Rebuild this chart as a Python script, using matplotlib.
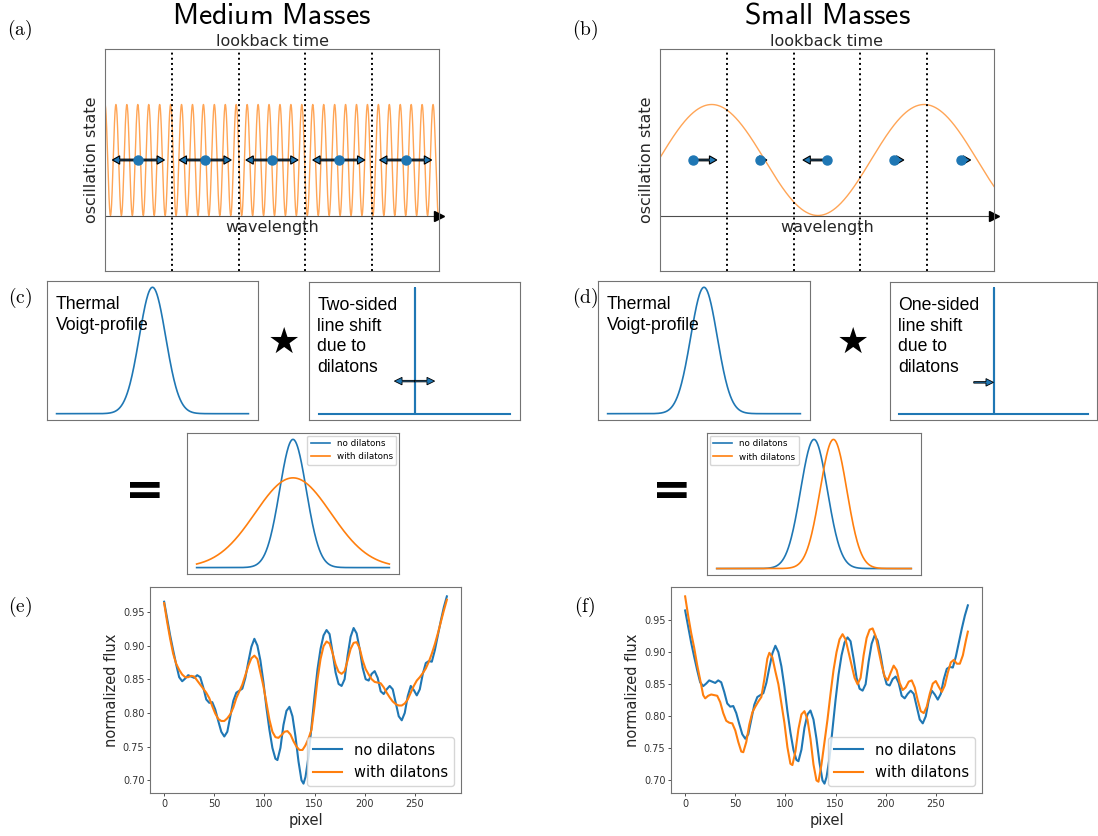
import numpy as np
import matplotlib.pyplot as plt

plt.rcParams['mathtext.fontset'] = 'cm'

W, H = 1098, 836

# ---- data ----
# oscillation panels (a), (b)
seg_bounds = [1, 2, 3, 4]
seg_centres = [0.5, 1.5, 2.5, 3.5, 4.5]
period_medium = 0.1637
period_small = 3.18
peak_small = 0.774
shift_medium = [0.39, 0.39, 0.39, 0.39, 0.39]
shift_small = [0.35, 0.10, -0.36, 0.15, 0.15]

# line profiles (c), (d)
sigma_thermal = 0.138
amp_two_sided = 0.7
sigma_two_sided = 0.394
shift_one_sided = 0.2
delta_x = [-1, 0, 0, 0, 1]
delta_y = [0, 0, 1, 0, 0]

# spectra (e), (f)
pix_nodil = [0, 3, 6, 9, 12, 15, 18, 21, 24, 27, 30, 33, 36, 39, 42, 45, 48, 51, 54, 57,
             60, 63, 66, 69, 72, 75, 78, 81, 84, 87, 90, 93, 96, 99, 102, 105, 108, 111, 113, 116,
             119, 122, 125, 128, 131, 134, 137, 139, 141, 144, 147, 150, 153, 156, 159, 162, 165, 168, 171, 174,
             177, 180, 183, 186, 189, 192, 195, 198, 201, 204, 207, 210, 213, 216, 219, 222, 225, 228, 231, 234,
             237, 240, 243, 246, 249, 252, 255, 258, 261, 264, 267, 270, 273, 276, 279, 282]
flux_nodil = [0.965, 0.940, 0.915, 0.893, 0.872, 0.853, 0.847, 0.851, 0.856, 0.854,
              0.852, 0.856, 0.853, 0.838, 0.820, 0.815, 0.816, 0.805, 0.788, 0.772,
              0.765, 0.772, 0.795, 0.818, 0.830, 0.833, 0.836, 0.852, 0.876, 0.898,
              0.910, 0.900, 0.878, 0.846, 0.808, 0.775, 0.748, 0.732, 0.730, 0.748,
              0.782, 0.803, 0.809, 0.795, 0.765, 0.728, 0.700, 0.695, 0.705, 0.735,
              0.780, 0.825, 0.865, 0.895, 0.915, 0.923, 0.917, 0.890, 0.860, 0.843,
              0.840, 0.850, 0.885, 0.913, 0.926, 0.918, 0.895, 0.867, 0.850, 0.848,
              0.858, 0.862, 0.852, 0.832, 0.828, 0.835, 0.840, 0.835, 0.815, 0.795,
              0.789, 0.800, 0.825, 0.840, 0.834, 0.826, 0.835, 0.858, 0.874, 0.877,
              0.876, 0.893, 0.915, 0.937, 0.957, 0.973]

pix_two = list(range(0, 283, 3))
flux_two = [0.963, 0.935, 0.910, 0.888, 0.873, 0.864, 0.857, 0.853, 0.853, 0.855,
            0.854, 0.848, 0.842, 0.836, 0.830, 0.822, 0.810, 0.799, 0.791, 0.788,
            0.788, 0.792, 0.798, 0.808, 0.822, 0.832, 0.842, 0.856, 0.870, 0.881,
            0.885, 0.880, 0.860, 0.840, 0.815, 0.790, 0.772, 0.764, 0.763, 0.767,
            0.772, 0.773, 0.768, 0.758, 0.750, 0.745, 0.745, 0.752, 0.762, 0.775,
            0.810, 0.850, 0.880, 0.899, 0.906, 0.903, 0.889, 0.872, 0.861, 0.858,
            0.862, 0.878, 0.895, 0.904, 0.905, 0.896, 0.878, 0.865, 0.857, 0.850,
            0.846, 0.845, 0.844, 0.838, 0.830, 0.823, 0.817, 0.813, 0.811, 0.811,
            0.814, 0.820, 0.830, 0.840, 0.848, 0.853, 0.859, 0.866, 0.876, 0.888,
            0.902, 0.918, 0.935, 0.952, 0.968]

pix_one = [0, 3, 6, 9, 12, 15, 18, 20, 23, 26, 29, 32, 35, 38, 41, 44, 47, 50, 53, 56,
           58, 61, 64, 67, 70, 73, 76, 79, 82, 84, 87, 90, 93, 96, 99, 102, 105, 107, 110, 113,
           116, 119, 122, 125, 128, 131, 133, 136, 139, 142, 145, 148, 151, 154, 157, 160, 163, 166, 169, 172,
           175, 178, 181, 184, 187, 190, 193, 196, 199, 202, 205, 208, 211, 214, 217, 220, 223, 226, 229, 232,
           235, 238, 241, 244, 247, 250, 253, 256, 259, 262, 265, 268, 271, 274, 277, 280, 282]
flux_one = [0.987, 0.957, 0.930, 0.907, 0.880, 0.857, 0.833, 0.828, 0.832, 0.834,
            0.833, 0.832, 0.822, 0.805, 0.793, 0.790, 0.789, 0.778, 0.760, 0.745,
            0.744, 0.760, 0.787, 0.806, 0.815, 0.823, 0.830, 0.858, 0.890, 0.899,
            0.892, 0.870, 0.850, 0.820, 0.790, 0.752, 0.726, 0.724, 0.745, 0.780,
            0.803, 0.808, 0.795, 0.765, 0.725, 0.700, 0.698, 0.725, 0.760, 0.795,
            0.835, 0.872, 0.900, 0.920, 0.928, 0.920, 0.900, 0.880, 0.860, 0.850,
            0.860, 0.895, 0.922, 0.935, 0.937, 0.925, 0.902, 0.880, 0.862, 0.856,
            0.868, 0.879, 0.872, 0.852, 0.841, 0.845, 0.854, 0.856, 0.845, 0.825,
            0.808, 0.805, 0.815, 0.835, 0.851, 0.855, 0.846, 0.838, 0.848, 0.868,
            0.884, 0.888, 0.882, 0.882, 0.895, 0.918, 0.932]

fig = plt.figure(figsize=(W / 100, H / 100), dpi=100)


def box(x0, y0, x1, y1):
    # axes placed by pixel corners of the reference
    ax = fig.add_axes([x0 / W, 1 - y1 / H, (x1 - x0) / W, (y1 - y0) / H])
    for s in ax.spines.values():
        s.set_color('0.45')
        s.set_linewidth(0.8)
    return ax


def blank(ax):
    ax.set_xticks([])
    ax.set_yticks([])


def osc_panel(ax, xs, ys, shifts, two_sided):
    ax.plot(xs, ys, color='C1', alpha=0.7, lw=1)
    for xb in seg_bounds:
        ax.axvline(xb, color='k', ls=':', lw=1.4)
    ax.axhline(0, color='0.3', lw=0.8)
    ax.plot(1, 0, '>k', ms=7, transform=ax.get_yaxis_transform(), clip_on=False)
    for xc, s in zip(seg_centres, shifts):
        dirs = [s, -s] if two_sided else [s]
        for d in dirs:
            ax.arrow(xc, 1, d, 0, width=0.03, head_width=0.15, head_length=0.11,
                     length_includes_head=True, fc='C0', ec='k', lw=0.8, zorder=3)
    ax.plot(seg_centres, [1] * len(seg_centres), 'o', color='C0', ms=6.5, zorder=4)
    ax.set_xlim(0, 5)
    ax.set_ylim(-1, 3)
    blank(ax)
    ax.set_title('lookback time', fontsize=11.5, pad=2, color='0.15')
    ax.set_ylabel('oscillation state', fontsize=11.5, color='0.15')
    ax.text(2.5, -0.08, 'wavelength', ha='center', va='top', fontsize=11.5, color='0.15')


xx = np.linspace(0, 5, 3000)
ax_a = box(105, 49, 439, 271)
osc_panel(ax_a, xx, 1 + np.cos(2 * np.pi * xx / period_medium), shift_medium, True)
ax_b = box(660, 49, 994, 271)
osc_panel(ax_b, xx, 1 + np.cos(2 * np.pi * (xx - peak_small) / period_small), shift_small, False)

# line profile boxes
gx = np.linspace(-1, 1, 400)
thermal = np.exp(-gx ** 2 / (2 * sigma_thermal ** 2))
txt_kw = dict(fontsize=12.7, family='Liberation Sans', va='top', ha='left', linespacing=1.27)

ax_c1 = box(47, 281, 258, 420)
ax_c1.plot(gx, thermal, color='C0', lw=1.2)
ax_c1.text(0.04, 0.89, 'Thermal\nVoigt-profile', transform=ax_c1.transAxes, **txt_kw)
blank(ax_c1)

ax_c2 = box(309, 282, 520, 420)
ax_c2.plot(delta_x, delta_y, color='C0', lw=1.5)
for d in [0.21, -0.21]:
    ax_c2.arrow(0, 0.26, d, 0, width=0.012, head_width=0.06, head_length=0.08,
                length_includes_head=True, fc='C0', ec='k', lw=0.6, zorder=3)
ax_c2.text(0.04, 0.89, 'Two-sided\nline shift\ndue to\ndilatons', transform=ax_c2.transAxes, **txt_kw)
blank(ax_c2)

ax_d1 = box(598, 281, 810, 420)
ax_d1.plot(gx, thermal, color='C0', lw=1.2)
ax_d1.text(0.04, 0.89, 'Thermal\nVoigt-profile', transform=ax_d1.transAxes, **txt_kw)
blank(ax_d1)

ax_d2 = box(890, 282, 1097, 420)
ax_d2.plot(delta_x, delta_y, color='C0', lw=1.5)
ax_d2.arrow(-0.21, 0.25, 0.21, 0, width=0.012, head_width=0.06, head_length=0.08,
            length_includes_head=True, fc='C0', ec='k', lw=0.6, zorder=3)
ax_d2.text(0.04, 0.89, 'One-sided\nline shift\ndue to\ndilatons', transform=ax_d2.transAxes, **txt_kw)
blank(ax_d2)

ax_cr = box(187, 433, 399, 574)
ax_cr.plot(gx, thermal, color='C0', lw=1.2, label='no dilatons')
ax_cr.plot(gx, amp_two_sided * np.exp(-gx ** 2 / (2 * sigma_two_sided ** 2)),
           color='C1', lw=1.2, label='with dilatons')
ax_cr.legend(loc='upper right', fontsize=6.3, handlelength=2.2, borderaxespad=0.3)
blank(ax_cr)

ax_dr = box(707, 433, 921, 575)
ax_dr.plot(gx, thermal, color='C0', lw=1.2, label='no dilatons')
ax_dr.plot(gx, np.exp(-(gx - shift_one_sided) ** 2 / (2 * sigma_thermal ** 2)),
           color='C1', lw=1.2, label='with dilatons')
ax_dr.legend(loc='upper left', fontsize=6.3, handlelength=2.2, borderaxespad=0.3)
blank(ax_dr)

for star_x, eq_x in [(284, 145), (853, 672)]:
    fig.text(star_x / W, 1 - 343 / H, '\u2605', fontsize=26, ha='center', va='center')
    fig.text(eq_x / W, 1 - 493 / H, '=', fontsize=34, fontweight='bold', ha='center', va='center')

# spectra
for x0, x1, oth_pix, oth_flux in [(150, 461, pix_two, flux_two), (671, 982, pix_one, flux_one)]:
    ax = box(x0, 587, x1, 793)
    ax.plot(pix_nodil, flux_nodil, color='C0', lw=1.5, label='no dilatons')
    ax.plot(oth_pix, oth_flux, color='C1', lw=1.5, label='with dilatons')
    ax.set_xticks([0, 50, 100, 150, 200, 250])
    ax.set_yticks([0.70, 0.75, 0.80, 0.85, 0.90, 0.95])
    ax.tick_params(labelsize=7, length=2, width=0.6, pad=2, colors='0.2')
    ax.set_xlabel('pixel', fontsize=10.5, color='0.15', labelpad=3)
    ax.set_ylabel('normalized flux', fontsize=10.5, color='0.15', labelpad=3)
    ax.legend(loc='lower right', fontsize=10.5, handlelength=2.0)

# titles and panel letters
fig.text(272 / W, 1 - 15 / H, r'$\mathsf{Medium\ Masses}$', fontsize=21.5, ha='center', va='center')
fig.text(827 / W, 1 - 15 / H, r'$\mathsf{Small\ Masses}$', fontsize=21.5, ha='center', va='center')
for lab, lx, ly in [('a', 20, 30), ('b', 585, 30), ('c', 20, 298), ('d', 585, 298),
                    ('e', 20, 607), ('f', 585, 607)]:
    fig.text(lx / W, 1 - ly / H, r'$\mathrm{(%s)}$' % lab, fontsize=14, ha='center', va='center')

fig.savefig('out.png', dpi=100)
